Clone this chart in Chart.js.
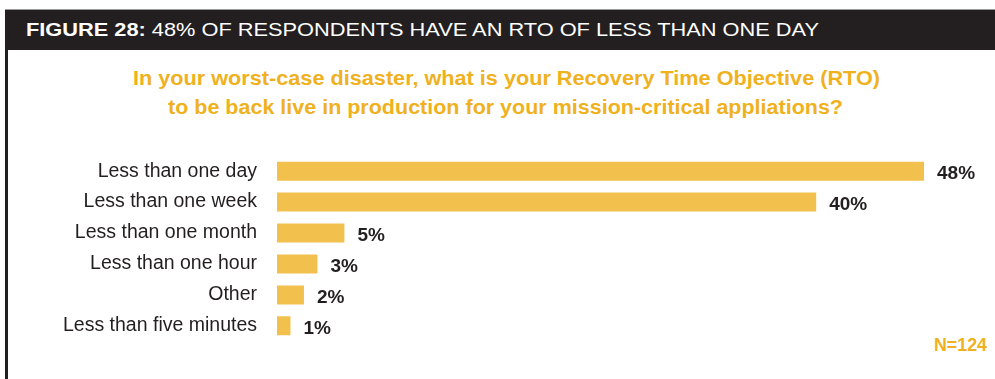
<!DOCTYPE html>
<html>
<head>
<meta charset="utf-8">
<script src="https://cdn.jsdelivr.net/npm/chart.js@4/dist/chart.umd.min.js"></script>
<style>
  html, body { margin: 0; padding: 0; background: #fff; }
  body { width: 995px; height: 379px; position: relative; overflow: hidden; font-family: "Liberation Sans", Arial, sans-serif; }
  .header { position: absolute; left: 5px; top: 9px; width: 990px; height: 41px; background: #231f20; border-top: 1px solid #9a9a9a; box-sizing: border-box; }
  .rule { position: absolute; left: 5px; top: 50px; width: 3px; height: 329px; background: #231f20; }
  .fit { position: absolute; white-space: nowrap; transform-origin: 0 0; }
  #title { left: 26px; top: 20px; color: #fff; font-size: 19px; line-height: 20px; }
  #title b { font-weight: bold; }
  .sub { color: #f0b11e; font-weight: bold; font-size: 21px; line-height: 24px; }
  #sub1 { left: 133px; top: 66px; }
  #sub2 { left: 168px; top: 95px; }
  #count { left: 934px; top: 335px; color: #f0b11e; font-weight: bold; font-size: 18px; line-height: 20px; }
  #chart { position: absolute; left: 0; top: 124px; }
</style>
</head>
<body>
<div class="header"></div>
<div class="rule"></div>
<div class="fit" id="title" data-w="793"><b>FIGURE 28:</b> 48% OF RESPONDENTS HAVE AN RTO OF LESS THAN ONE DAY</div>
<div class="fit sub" id="sub1" data-w="747">In your worst-case disaster, what is your Recovery Time Objective (RTO)</div>
<div class="fit sub" id="sub2" data-w="675">to be back live in production for your mission-critical appliations?</div>
<div class="fit" id="count" data-w="53">N=124</div>
<canvas id="chart" width="995" height="249"></canvas>
<script>
// Survey answers, share of respondents (%)
const categories = [
  "Less than one day",
  "Less than one week",
  "Less than one month",
  "Less than one hour",
  "Other",
  "Less than five minutes"
];
const shares = [48, 40, 5, 3, 2, 1];
const axisMax = 50;

// Stretch or squeeze each heading to its set width
document.querySelectorAll('.fit').forEach(el => {
  const target = parseFloat(el.dataset.w);
  const w = el.getBoundingClientRect().width;
  if (w > 0) el.style.transform = 'scaleX(' + (target / w) + ')';
});

const INK = '#231f20';
const BAR = '#f2c04c';

// Percentage written just past the end of each bar
const valueLabels = {
  id: 'valueLabels',
  afterDatasetsDraw(chart) {
    const ctx = chart.ctx;
    const meta = chart.getDatasetMeta(0);
    ctx.save();
    ctx.fillStyle = INK;
    ctx.font = 'bold 19px "Liberation Sans", Arial, sans-serif';
    ctx.textAlign = 'left';
    ctx.textBaseline = 'middle';
    meta.data.forEach((bar, i) => {
      ctx.fillText(shares[i] + '%', bar.x + 13, bar.y + 3);
    });
    ctx.restore();
  }
};

new Chart(document.getElementById('chart'), {
  type: 'bar',
  data: {
    labels: categories,
    datasets: [{
      data: shares,
      backgroundColor: BAR,
      borderWidth: 0,
      categoryPercentage: 1,
      barPercentage: 0.613
    }]
  },
  options: {
    indexAxis: 'y',
    responsive: false,
    animation: false,
    devicePixelRatio: 1,
    layout: { padding: { top: 15, bottom: 14, left: 0, right: 44 } },
    plugins: { legend: { display: false }, tooltip: { enabled: false }, title: { display: false } },
    scales: {
      x: { display: false, min: 0, max: axisMax },
      y: {
        afterFit(scale) { scale.width = 277; },
        grid: { display: false, drawTicks: false },
        border: { display: false },
        ticks: {
          color: INK,
          padding: 20,
          font: { family: '"Liberation Sans", Arial, sans-serif', size: 19.5 }
        }
      }
    }
  },
  plugins: [valueLabels]
});
</script>
</body>
</html>
